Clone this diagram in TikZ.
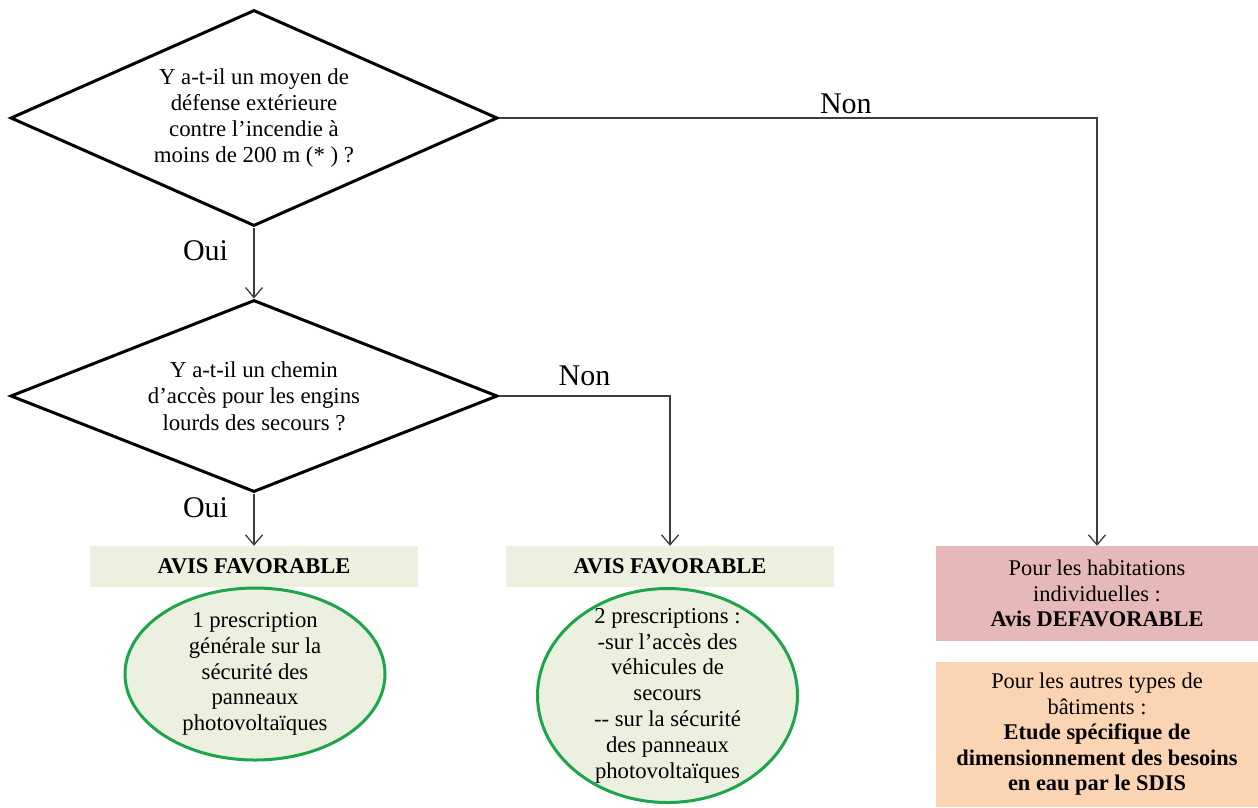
\documentclass[tikz,border=0pt]{standalone}
\usepackage{fontspec}
\setmainfont{Liberation Serif}
\usetikzlibrary{shapes.geometric,arrows.meta,positioning}

\definecolor{favfill}{HTML}{EBF1DE}
\definecolor{favline}{RGB}{30,165,75}
\definecolor{defavfill}{HTML}{E6B9B8}
\definecolor{etudefill}{HTML}{FBD4B4}
\definecolor{linkgray}{RGB}{60,60,60}

\begin{document}
\begin{tikzpicture}[x=1pt,y=-1pt,
    >={Straight Barb[length=10pt,width=17pt]},
    question/.style={diamond,draw,line width=3pt,minimum width=487pt,inner sep=0pt,
      align=center,font=\fontsize{22.8}{26.3}\selectfont},
    favbox/.style={fill=favfill,minimum width=328pt,minimum height=41pt,inner sep=0pt,
      font=\fontsize{22.5}{26}\selectfont\bfseries},
    prescbox/.style={ellipse,draw=favline,fill=favfill,line width=3pt,minimum width=260pt,inner sep=0pt},
    presctext/.style={align=center,font=\fontsize{22.7}{25.8}\selectfont},
    advice/.style={minimum width=322pt,inner sep=0pt,align=center,font=\fontsize{22.4}{25.5}\selectfont},
    link/.style={->,draw=linkgray,line width=1.3pt},
    answer/.style={font=\fontsize{30}{34}\selectfont}]
  \useasboundingbox (0,0) rectangle (1258,807);

  % questions
  \node[question,aspect=2.25,minimum height=216pt] (q1) at (254,118)
    {Y a-t-il un moyen de\\ défense extérieure\\ contre l’incendie à\\ moins de 200 m (* ) ?};
  \node[question,aspect=2.54,minimum height=192pt] (q2) at (254,396)
    {Y a-t-il un chemin\\ d’accès pour les engins\\ lourds des secours ?};

  % outcomes
  \node[favbox] (fav1) at (254,566.5) {AVIS FAVORABLE};
  \node[favbox] (fav2) at (670,566.5) {AVIS FAVORABLE};
  \node[prescbox,minimum height=172pt] (presc1) at (255,674) {};
  \node[presctext] (presc1txt) at (presc1) {1 prescription\\ générale sur la\\ sécurité des\\ panneaux\\ photovoltaïques};
  \node[prescbox,minimum height=214pt] (presc2) at (667.5,695.5) {};
  \node[presctext] (presc2txt) at (presc2) {2 prescriptions :\\ -sur l’accès des\\ véhicules de\\ secours\\ -{}- sur la sécurité\\ des panneaux\\ photovoltaïques};
  \node[advice,fill=defavfill,minimum height=95pt] (defav) at (1097,593.5)
    {Pour les habitations\\ individuelles :\\ \textbf{Avis DEFAVORABLE}};
  \node[advice,fill=etudefill,minimum height=145pt] (etude) at (1097,734.5)
    {Pour les autres types de\\ bâtiments :\\ \textbf{Etude spécifique de}\\ \textbf{dimensionnement des besoins}\\ \textbf{en eau par le SDIS}};

  % connectors
  \draw[link] (q1.south) -- node[answer,pos=0.32,left=22pt] {Oui} (q2.north);
  \draw[link] (q2.south) -- node[answer,pos=0.28,left=22pt] {Oui} (fav1.north);
  \draw[link] (q2.east) -| node[answer,pos=0.25,above=6pt] {Non} (fav2.north);
  \draw[link] (q1.east) -| node[answer,pos=0.29,above=0pt] {Non} (defav.north);
\end{tikzpicture}
\end{document}
